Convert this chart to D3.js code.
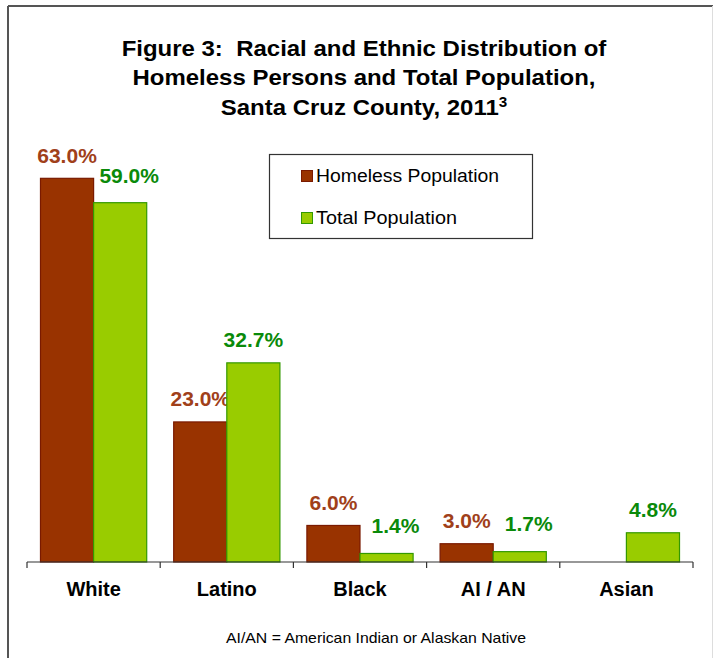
<!DOCTYPE html>
<html>
<head>
<meta charset="utf-8">
<script src="https://cdn.jsdelivr.net/npm/d3@7/dist/d3.min.js"></script>
<style>
  html, body { margin: 0; padding: 0; background: #fff; }
  svg { display: block; font-family: "Liberation Sans", Arial, sans-serif; }
  .pre { white-space: pre; }
</style>
</head>
<body>
<svg id="chart" width="713" height="658"></svg>
<script>
// Racial / ethnic groups and the two population shares (%)
const categories = ["White", "Latino", "Black", "AI / AN", "Asian"];
const homelessValues = [63.0, 23.0, 6.0, 3.0, null];
const totalValues = [59.0, 32.7, 1.4, 1.7, 4.8];
const seriesNames = ["Homeless Population", "Total Population"];
const titleLines = [
  "Figure 3:  Racial and Ethnic Distribution of",
  "Homeless Persons and Total Population,",
  "Santa Cruz County, 2011"
];
const titleNote = "3";
const footnote = "AI/AN = American Indian or Alaskan Native";

const fills = ["#993300", "#99CC00"];
const strokes = ["#7a1a00", "#339900"];
const labelColors = ["#a0401a", "#0a8a0a"];

const svg = d3.select("#chart");

// frame around the figure
svg.append("line").attr("x1", 8).attr("y1", 6).attr("x2", 713).attr("y2", 6)
  .attr("stroke", "#555").attr("stroke-width", 2);
svg.append("line").attr("x1", 8).attr("y1", 6).attr("x2", 8).attr("y2", 658)
  .attr("stroke", "#555").attr("stroke-width", 2);
svg.append("line").attr("x1", 712.5).attr("y1", 6).attr("x2", 712.5).attr("y2", 658)
  .attr("stroke", "#ddd").attr("stroke-width", 1);

// title (slightly widened bold face)
const title = svg.append("g").attr("transform", "translate(364,0) scale(1.09,1)")
  .append("text").attr("class", "pre").attr("text-anchor", "middle")
  .attr("font-weight", "bold").attr("font-size", 22).attr("fill", "#000");
titleLines.forEach((t, i) => {
  const ts = title.append("tspan").attr("x", 0).attr("y", 56 + i * 29.5).text(t);
  if (i === titleLines.length - 1) {
    ts.append("tspan").attr("dy", -8).attr("font-size", 14).text(titleNote);
  }
});

// scales
const x0 = d3.scaleBand().domain(categories).range([27, 693]).paddingInner(0).paddingOuter(0);
const x1 = d3.scaleBand().domain([0, 1]).range([0, x0.bandwidth()]).paddingOuter(0.254).paddingInner(0);
const y = d3.scaleLinear().domain([0, 70]).range([562, 135.7]);

const series = [homelessValues, totalValues];
const labelOffsets = [15.5, 16];
// hand-placed value labels of the total series (dx, extra lift)
const totalLabelNudge = { "White": [9, 4], "Black": [9, 4], "AI / AN": [9, 4.5] };

series.forEach((vals, s) => {
  const g = svg.append("g");
  const data = categories.map((c, i) => ({ c, v: vals[i] })).filter(d => d.v != null);
  g.selectAll("rect").data(data).join("rect")
    .attr("x", d => x0(d.c) + x1(s))
    .attr("y", d => y(d.v))
    .attr("width", x1.bandwidth())
    .attr("height", d => y(0) - y(d.v))
    .attr("fill", fills[s])
    .attr("stroke", strokes[s]).attr("stroke-width", 1.2);
  const nudge = d => (s === 1 && totalLabelNudge[d.c]) || [0, 0];
  g.selectAll("text").data(data).join("text")
    .attr("x", d => x0(d.c) + x1(s) + x1.bandwidth() / 2 + nudge(d)[0])
    .attr("y", d => y(d.v) - labelOffsets[s] - nudge(d)[1])
    .attr("text-anchor", "middle")
    .attr("font-weight", "bold").attr("font-size", 21)
    .attr("fill", labelColors[s])
    .text(d => d.v.toFixed(1) + "%");
});

// category axis
const axis = d3.axisBottom(x0).tickSize(0).tickPadding(0).tickFormat("");
const ax = svg.append("g").attr("transform", `translate(0,${y(0)})`).call(axis);
ax.select(".domain").attr("stroke", "#333").attr("stroke-width", 1.2).attr("d", "M27,0H693");
const tickXs = categories.map(c => x0(c)).concat([x0.range()[1]]);
ax.selectAll(".sep").data(tickXs).join("line").attr("class", "sep")
  .attr("x1", d => d).attr("x2", d => d).attr("y1", 0).attr("y2", 6)
  .attr("stroke", "#333").attr("stroke-width", 1.2);
ax.selectAll(".cat").data(categories).join("text").attr("class", "cat")
  .attr("x", d => x0(d) + x0.bandwidth() / 2).attr("y", 34)
  .attr("text-anchor", "middle").attr("font-weight", "bold").attr("font-size", 20)
  .attr("fill", "#000").text(d => d);

// legend
const lg = svg.append("g");
lg.append("rect").attr("x", 269.5).attr("y", 154.5).attr("width", 263).attr("height", 84)
  .attr("fill", "#fff").attr("stroke", "#333").attr("stroke-width", 1.2);
const legendWidths = [183, 141];
seriesNames.forEach((n, i) => {
  const cy = 176 + i * 42;
  lg.append("rect").attr("x", 301.5).attr("y", cy - 5.5).attr("width", 11).attr("height", 11)
    .attr("fill", fills[i]).attr("stroke", strokes[i]).attr("stroke-width", 1);
  lg.append("text").attr("x", 316).attr("y", cy + 6).attr("font-size", 17.5)
    .attr("textLength", legendWidths[i]).attr("lengthAdjust", "spacingAndGlyphs")
    .attr("fill", "#000").text(n);
});

// footnote
svg.append("text").attr("x", 376).attr("y", 643).attr("text-anchor", "middle")
  .attr("font-size", 15).attr("textLength", 300).attr("lengthAdjust", "spacingAndGlyphs")
  .attr("fill", "#000").text(footnote);
</script>
</body>
</html>
